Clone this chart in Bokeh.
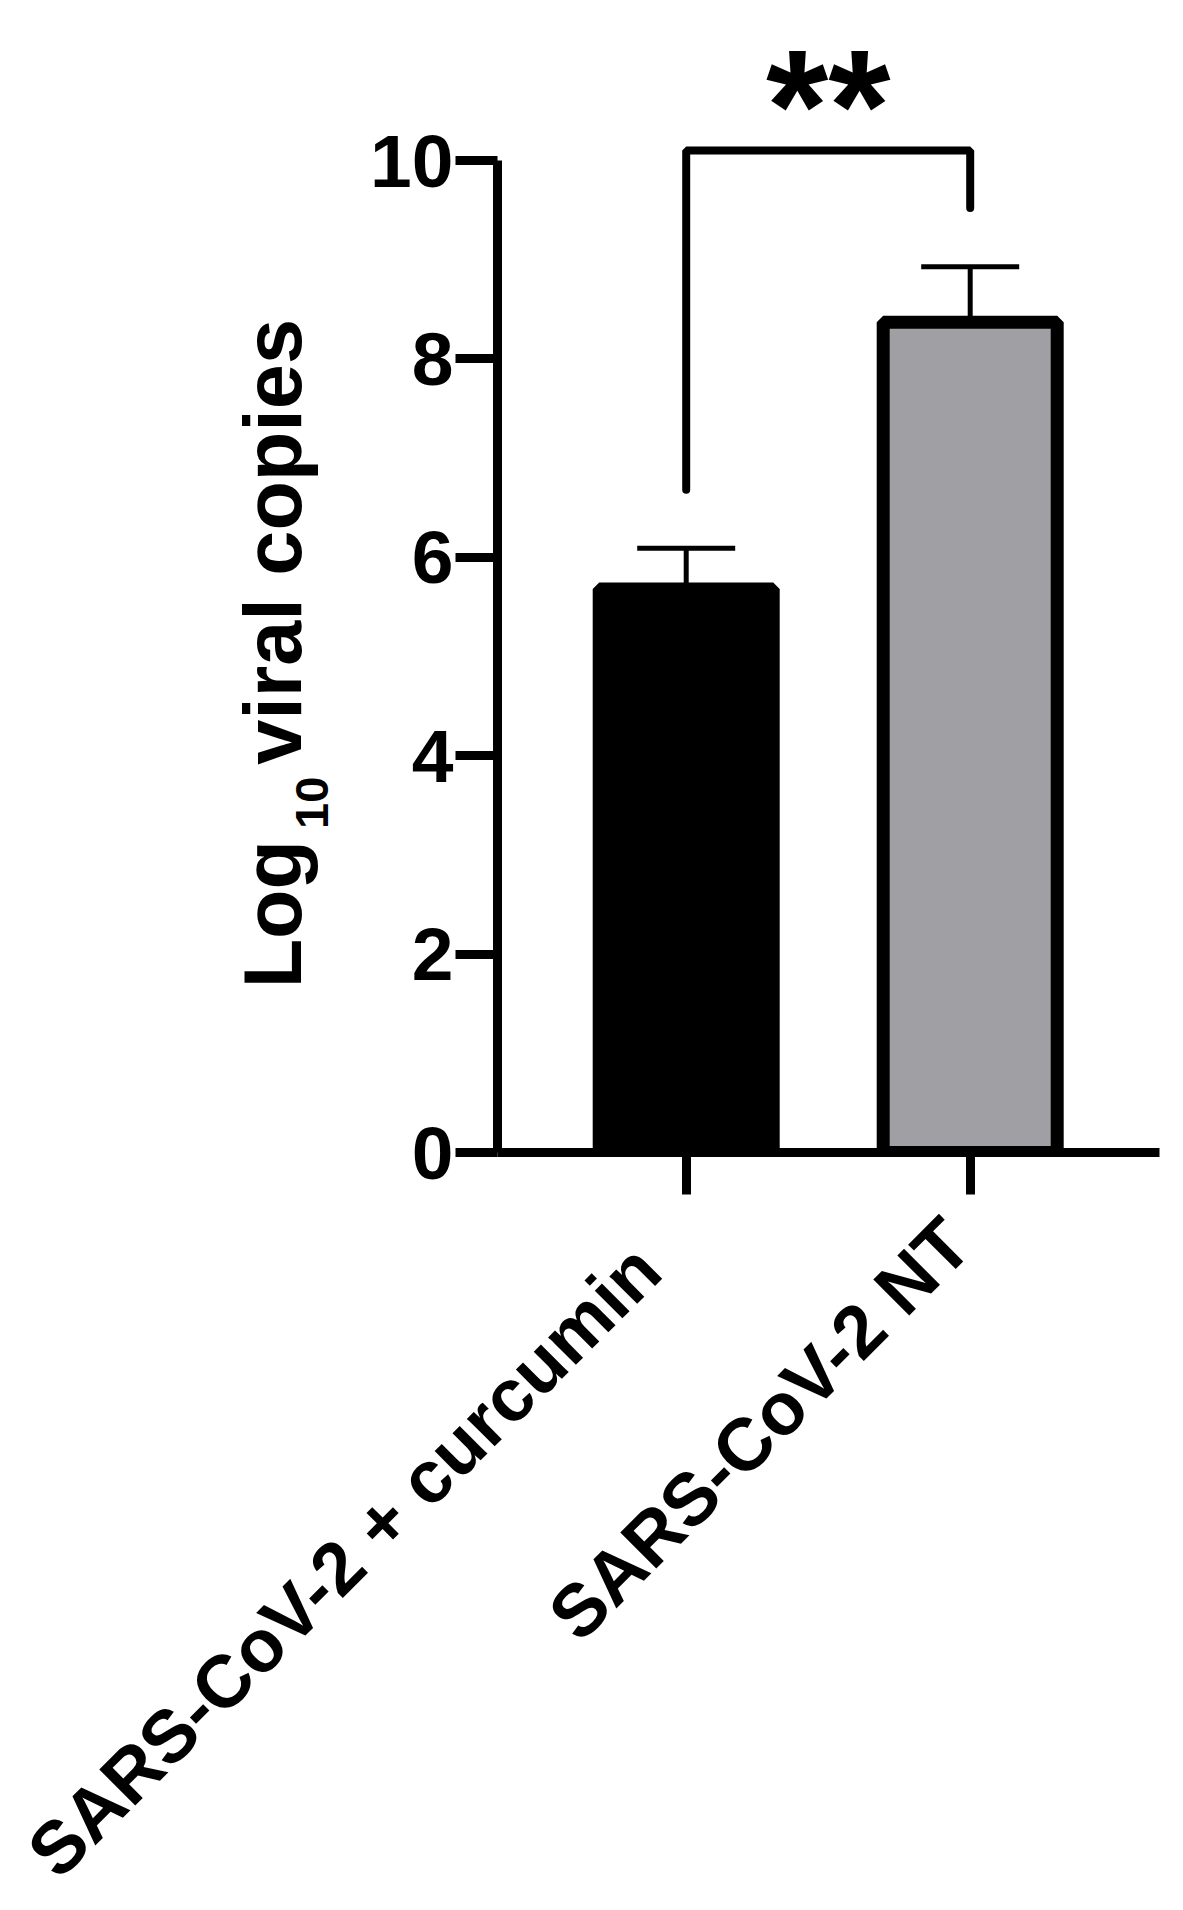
import math
from bokeh.plotting import figure
from bokeh.layouts import column, row
from bokeh.models import Range1d, FixedTicker, Whisker, TeeHead, ColumnDataSource
from bokeh.core.properties import value
from bokeh.embed import file_html
from bokeh.resources import INLINE

# ---- data ----
categories = ["SARS-CoV-2 + curcumin", "SARS-CoV-2 NT"]
means = [5.68, 8.37]
sds = [0.41, 0.56]
bar_colors = ["#000000", "#a09fa4"]
y_ticks = [0, 2, 4, 6, 8, 10]
sig_text = "**"
sig_bracket_y = 10.1
sig_leg_bottoms = [6.68, 9.52]
y_title_parts = ["Log", "10", " viral copies"]

# ---- layout (pixels) ----
FONT = "Liberation Sans"
TOTAL_W = 1175
LEFT_W = 340            # width of the y-title strip
TOP_H = 1200            # height of the chart row
BOTTOM_H = 700          # height of the category-label strip
FRAME_LEFT = 497        # page x of the y axis
FRAME_RIGHT = 1159      # page x where the x axis ends
FRAME_TOP = 20
FRAME_BOTTOM = 1152     # page y of y = 0
unit_y = 99.2           # px per y unit
unit_x = 284.0          # px per category step
first_center = 188.7    # px from y axis to first bar centre
TICK_OUT = 42

xs = [i + 1 for i in range(len(categories))]
x_start = 1 - first_center / unit_x
x_end = x_start + (FRAME_RIGHT - FRAME_LEFT) / unit_x
y_end = (FRAME_BOTTOM - FRAME_TOP) / unit_y

def bare(width, height, x_range, y_range):
    f = figure(width=width, height=height, output_backend="svg",
               toolbar_location=None, x_range=x_range, y_range=y_range,
               x_axis_type=None, y_axis_type=None,
               min_border_left=0, min_border_right=0,
               min_border_top=0, min_border_bottom=0)
    f.outline_line_color = None
    f.grid.visible = False
    return f

# ---------------- main chart ----------------
P_W = TOTAL_W - LEFT_W
p = figure(width=P_W, height=TOP_H, output_backend="svg", toolbar_location=None,
           x_range=Range1d(x_start, x_end), y_range=Range1d(0, y_end),
           min_border_left=FRAME_LEFT - LEFT_W,
           min_border_right=LEFT_W + P_W - FRAME_RIGHT,
           min_border_top=FRAME_TOP, min_border_bottom=TOP_H - FRAME_BOTTOM)
p.outline_line_color = None
p.grid.visible = False

src = ColumnDataSource(dict(x=xs, top=means, color=bar_colors,
                            upper=[m + s for m, s in zip(means, sds)],
                            lower=means))
p.vbar(x="x", top="top", bottom=0, width=174 / unit_x, source=src,
       fill_color="color", line_color="black", line_width=13,
       line_join="bevel")

p.add_layout(Whisker(base="x", upper="upper", lower="lower", source=src,
                     dimension="height", line_width=5, line_color="black",
                     upper_head=TeeHead(size=98, line_width=5, line_color="black"),
                     lower_head=None))

# significance bracket and stars
p.line(x=[xs[0], xs[0], xs[1], xs[1]],
       y=[sig_leg_bottoms[0], sig_bracket_y, sig_bracket_y, sig_leg_bottoms[1]],
       line_width=8, line_color="black", line_cap="round", line_join="bevel")
p.text(x=[(xs[0] + xs[1]) / 2], y=[sig_bracket_y + 64 / unit_y], text=[sig_text],
       text_font=value(FONT), text_font_style="bold", text_font_size="160px",
       text_align="center", text_baseline="alphabetic", y_offset=19,
       text_color="black")

yax = p.yaxis[0]
yax.ticker = FixedTicker(ticks=y_ticks)
yax.bounds = (0, 10)
yax.major_label_standoff = 2
yax.major_label_text_font = FONT
yax.major_label_text_font_style = "bold"
yax.major_label_text_font_size = "75px"
yax.major_label_text_color = "black"
yax.major_tick_line_width = 9
yax.major_tick_out = TICK_OUT
yax.minor_tick_line_color = None

xax = p.xaxis[0]
# category ticks drawn as (label-less) minor ticks; labels are drawn below
xax.ticker = FixedTicker(ticks=[], minor_ticks=xs)
xax.minor_tick_line_width = 9
xax.minor_tick_out = TICK_OUT
xax.minor_tick_line_color = "black"
for ax in (xax, yax):
    ax.axis_line_width = 9
    ax.axis_line_color = "black"
    ax.major_tick_line_color = "black"
    ax.major_tick_in = 0
    ax.minor_tick_in = 0

# ---------------- y-axis title strip ----------------
fy = bare(LEFT_W, TOP_H, Range1d(0, LEFT_W), Range1d(TOP_H, 0))
main_fs, sub_fs = 81, 47
base_x = 272
part_x = [base_x, base_x + 39, base_x]
part_y = [1026, 857, 789]
part_fs = [main_fs, sub_fs, main_fs]
for t, xx, yy, fs in zip(y_title_parts, part_x, part_y, part_fs):
    fy.text(x=[xx], y=[yy], text=[t], angle=math.pi / 2,
            text_font=value(FONT), text_font_style="bold",
            text_font_size=f"{fs}px", text_align="left",
            text_baseline="alphabetic", text_color="black")

# ---------------- category label strip ----------------
xl_start = x_start - FRAME_LEFT / unit_x
fx = bare(TOTAL_W, BOTTOM_H, Range1d(xl_start, xl_start + TOTAL_W / unit_x),
          Range1d(BOTTOM_H, 0))
perp = 17                      # px below the tick end, perpendicular to text
along = [-72, -35]             # px along the text direction
c45 = math.cos(math.pi / 4)
tick_end = FRAME_BOTTOM + TICK_OUT - TOP_H
for c, xv, a in zip(categories, xs, along):
    fx.text(x=[xv], y=[tick_end + (perp - a) * c45], x_offset=(perp + a) * c45,
            text=[c], angle=math.pi / 4,
            text_font=value(FONT), text_font_style="bold", text_font_size="74px",
            text_align="right", text_baseline="alphabetic", text_color="black")

layout = column(row(fy, p), fx)
open("out.html", "w").write(file_html(layout, INLINE))
